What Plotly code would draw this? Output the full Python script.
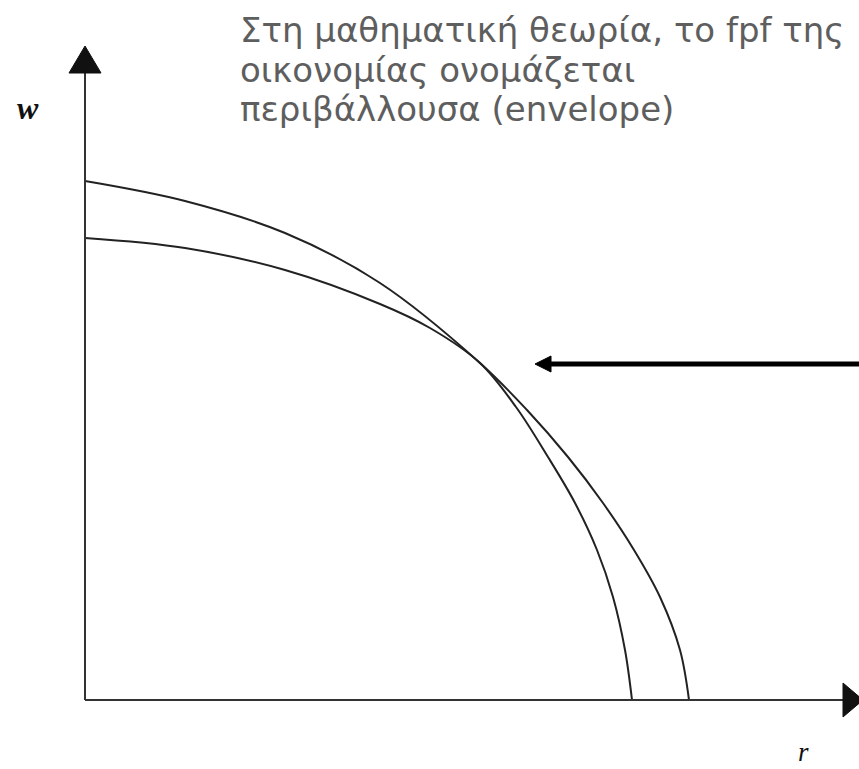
import plotly.graph_objects as go

# Outer curve (envelope) and inner curve
outer_r = [0.0, 1.0, 2.0, 2.95, 3.95, 4.42, 4.83, 5.18, 5.49, 5.75, 5.95, 6.04]
outer_w = [5.19, 4.99, 4.67, 4.17, 3.37, 2.90, 2.43, 1.97, 1.50, 1.03, 0.50, 0.0]
inner_r = [0.0, 1.0, 2.0, 2.95, 3.45, 3.95, 4.31, 4.63, 4.90, 5.12, 5.28, 5.40, 5.47]
inner_w = [4.62, 4.52, 4.30, 3.96, 3.72, 3.37, 2.93, 2.43, 1.97, 1.50, 1.03, 0.50, 0.0]

title_lines = ["Στη μαθηματική θεωρία, το fpf της",
               "οικονομίας ονομάζεται",
               "περιβάλλουσα (envelope)"]
x_label = "r"
y_label = "w"

# axis extents (data units)
x_min, x_max = -0.85, 7.74
y_min, y_max = -0.69, 7.00
y_axis_top = 6.54
x_axis_end = 7.78
arrow_y = 3.36
arrow_tip_r = 4.50

fig = go.Figure()
for rr, ww in [(outer_r, outer_w), (inner_r, inner_w)]:
    fig.add_trace(go.Scatter(x=rr, y=ww, mode="lines",
                             line=dict(color="#222222", width=2, shape="spline", smoothing=1.0),
                             hoverinfo="skip", showlegend=False))

shapes = []
shapes.append(dict(type="line", x0=0, y0=0, x1=0, y1=y_axis_top - 0.2, line=dict(color="#333333", width=2)))
shapes.append(dict(type="line", x0=0, y0=0, x1=x_axis_end - 0.2, y1=0, line=dict(color="#333333", width=2)))
shapes.append(dict(type="path",
                   path=f"M {-0.16} {y_axis_top-0.27} L {0.16} {y_axis_top-0.27} L 0 {y_axis_top} Z",
                   fillcolor="#111111", line=dict(color="#111111", width=1)))
shapes.append(dict(type="path",
                   path=f"M {x_axis_end-0.2} {0.17} L {x_axis_end-0.2} {-0.17} L {x_axis_end} 0 Z",
                   fillcolor="#111111", line=dict(color="#111111", width=1)))
shapes.append(dict(type="line", x0=arrow_tip_r + 0.12, y0=arrow_y, x1=x_max, y1=arrow_y,
                   line=dict(color="#000000", width=5)))
shapes.append(dict(type="path",
                   path=f"M {arrow_tip_r+0.16} {arrow_y+0.08} L {arrow_tip_r+0.16} {arrow_y-0.08} L {arrow_tip_r} {arrow_y} Z",
                   fillcolor="#000000", line=dict(color="#000000", width=1)))

annotations = []
line_mid_px = [30, 70, 109]
for txt, ypx in zip(title_lines, line_mid_px):
    annotations.append(dict(text=txt, xref="paper", yref="paper", x=238/859, y=1 - ypx/769,
                            xanchor="left", yanchor="middle", align="left", showarrow=False,
                            font=dict(family="DejaVu Sans", size=34, color="#5e5e5e")))
annotations.append(dict(text=f"<b><i>{y_label}</i></b>", x=-0.57, y=5.92, showarrow=False,
                        font=dict(family="Liberation Serif", size=32, color="#111111")))
annotations.append(dict(text=f"<i>{x_label}</i>", x=7.18, y=y_min + 0.01, yanchor="bottom",
                        borderpad=0, showarrow=False,
                        font=dict(family="Liberation Serif", size=27, color="#111111")))

fig.update_layout(
    width=859, height=769,
    margin=dict(l=0, r=0, t=0, b=0),
    paper_bgcolor="white", plot_bgcolor="white",
    xaxis=dict(range=[x_min, x_max], visible=False, fixedrange=True),
    yaxis=dict(range=[y_min, y_max], visible=False, fixedrange=True),
    shapes=shapes,
    annotations=annotations,
)

fig.write_html("out.html", config={"displayModeBar": False},
               post_script="document.body.style.margin='0px';")
